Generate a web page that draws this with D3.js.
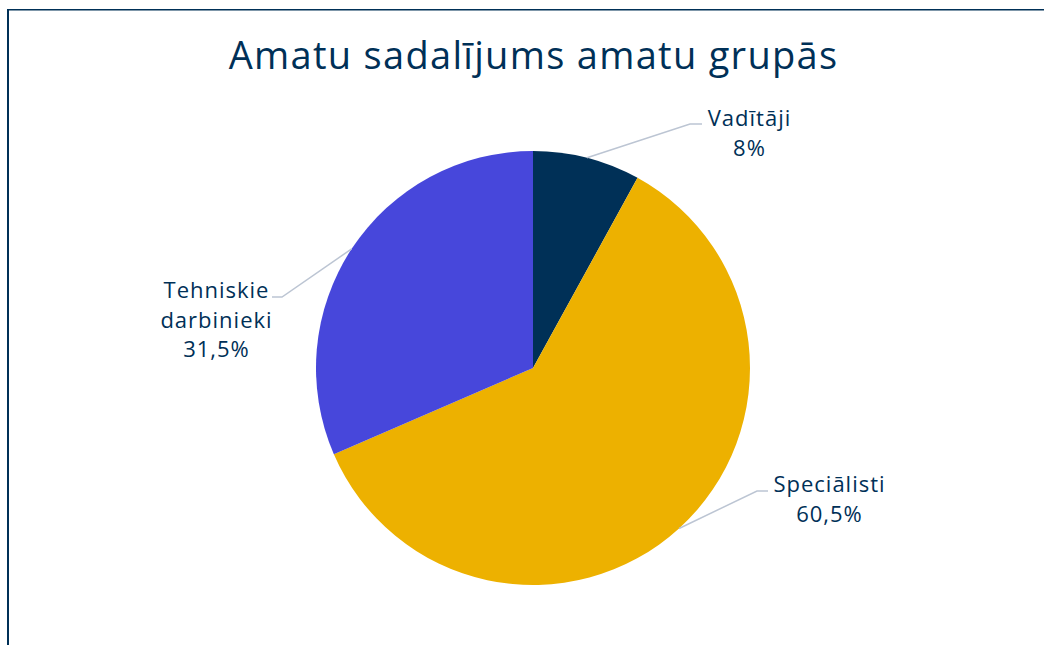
<!DOCTYPE html>
<html>
<head>
<meta charset="utf-8">
<script src="https://cdn.jsdelivr.net/npm/d3@7"></script>
<style>
  body { margin: 0; background: #fff; }
  svg { display: block; }
  text { font-family: "Open Sans", "Noto Sans", sans-serif; fill: #003057; }
</style>
</head>
<body>
<div id="chart"></div>
<script>
const categories = ["Vadītāji", "Speciālisti", "Tehniskie darbinieki"]
const values = [8, 60.5, 31.5]
const valueLabels = ["8%", "60,5%", "31,5%"]
const colors = ["#003057", "#EDB100", "#4747DB"]

const width = 1044
const height = 645
const cx = 533
const cy = 368
const radius = 217

// where each label's leader line bends (relative to pie centre) and where the text block sits
const labelLayout = [
    { elbow: [157, -244], end: [169, -244], text: [216, -242], lines: ["Vadītāji"] },
    { elbow: [224, 123], end: [235, 123], text: [296, 124], lines: ["Speciālisti"] },
    { elbow: [-251, -71], end: [-261, -71], text: [-317, -70], lines: ["Tehniskie", "darbinieki"] },
]

const data = categories.map((c, i) => ({ name: c, value: values[i], label: valueLabels[i], color: colors[i] }))

const svg = d3.select('#chart')
    .append('svg')
    .attr('width', width)
    .attr('height', height)

// frame
svg.append('line')
    .attr('x1', 7).attr('y1', 9.75).attr('x2', width).attr('y2', 9.75)
    .attr('stroke', '#003057').attr('stroke-width', 1.5)
svg.append('line')
    .attr('x1', 8).attr('y1', 9).attr('x2', 8).attr('y2', height)
    .attr('stroke', '#003057').attr('stroke-width', 2)

svg.append('text')
    .attr('x', cx + 0.6)
    .attr('y', 69)
    .attr('text-anchor', 'middle')
    .style('font-size', '38px')
    .style('letter-spacing', '1.3px')
    .text('Amatu sadalījums amatu grupās')

const pie = d3.pie().sort(null).value(d => d.value)
const arc = d3.arc().innerRadius(0).outerRadius(radius)
const arcs = pie(data)

const chart = svg.append('g')
    .attr('transform', 'translate(' + cx + ',' + cy + ')')

chart.selectAll('path.slice')
    .data(arcs)
    .enter()
    .append('path')
    .attr('class', 'slice')
    .attr('d', arc)
    .attr('fill', d => d.data.color)

// leader lines
chart.selectAll('polyline')
    .data(arcs)
    .enter()
    .append('polyline')
    .attr('points', (d, i) => {
        const a = (d.startAngle + d.endAngle) / 2
        const p = [Math.sin(a) * radius, -Math.cos(a) * radius]
        const l = labelLayout[i]
        return [p, l.elbow, l.end].map(q => q.join(',')).join(' ')
    })
    .attr('fill', 'none')
    .attr('stroke', '#BCC5D3')
    .attr('stroke-width', 1.5)

const lineH = 29.5
const labels = chart.selectAll('text.lbl')
    .data(arcs)
    .enter()
    .append('text')
    .attr('class', 'lbl')
    .attr('text-anchor', 'middle')
    .style('font-size', '22px')
    .style('letter-spacing', '1px')

labels.each(function (d, i) {
    const l = labelLayout[i]
    const rows = l.lines.concat([d.data.label])
    d3.select(this).selectAll('tspan')
        .data(rows)
        .enter()
        .append('tspan')
        .attr('x', l.text[0] + 0.5)
        .attr('y', (r, j) => l.text[1] + j * lineH)
        .text(r => r)
})
</script>
</body>
</html>
